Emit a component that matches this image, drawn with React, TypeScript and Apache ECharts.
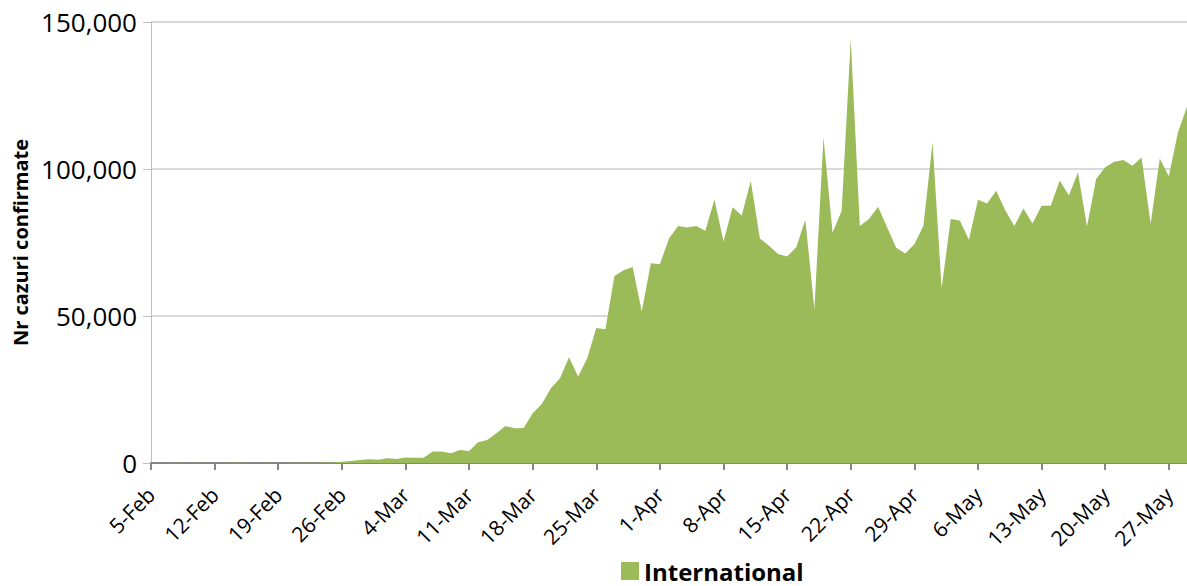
import React, { useEffect, useRef } from "react";
import * as echarts from "echarts";

const categories: string[] = [
  "5-Feb","6-Feb","7-Feb","8-Feb","9-Feb","10-Feb","11-Feb","12-Feb","13-Feb","14-Feb",
  "15-Feb","16-Feb","17-Feb","18-Feb","19-Feb","20-Feb","21-Feb","22-Feb","23-Feb","24-Feb",
  "25-Feb","26-Feb","27-Feb","28-Feb","29-Feb","1-Mar","2-Mar","3-Mar","4-Mar","5-Mar",
  "6-Mar","7-Mar","8-Mar","9-Mar","10-Mar","11-Mar","12-Mar","13-Mar","14-Mar","15-Mar",
  "16-Mar","17-Mar","18-Mar","19-Mar","20-Mar","21-Mar","22-Mar","23-Mar","24-Mar","25-Mar",
  "26-Mar","27-Mar","28-Mar","29-Mar","30-Mar","31-Mar","1-Apr","2-Apr","3-Apr","4-Apr",
  "5-Apr","6-Apr","7-Apr","8-Apr","9-Apr","10-Apr","11-Apr","12-Apr","13-Apr","14-Apr",
  "15-Apr","16-Apr","17-Apr","18-Apr","19-Apr","20-Apr","21-Apr","22-Apr","23-Apr","24-Apr",
  "25-Apr","26-Apr","27-Apr","28-Apr","29-Apr","30-Apr","1-May","2-May","3-May","4-May",
  "5-May","6-May","7-May","8-May","9-May","10-May","11-May","12-May","13-May","14-May",
  "15-May","16-May","17-May","18-May","19-May","20-May","21-May","22-May","23-May","24-May",
  "25-May","26-May","27-May","28-May","29-May",
];

const international: number[] = [
  20, 40, 30, 60, 20, 60, 30, 30, 20, 70,
  50, 40, 30, 70, 10, 20, 80, 100, 60, 150,
  200, 400, 700, 1000, 1300, 1100, 1600, 1400, 1900, 1800,
  1800, 3900, 3900, 3300, 4400, 4100, 7100, 7800, 10100, 12600,
  11800, 11900, 16900, 20100, 25400, 28800, 36000, 29400, 35600, 45900,
  45500, 63600, 65600, 66700, 51500, 67900, 67600, 76400, 80600, 80100,
  80600, 79000, 89600, 75300, 87000, 84200, 95900, 76400, 73900, 71100,
  70200, 73400, 82700, 52400, 110800, 78300, 85800, 144100, 80600, 83000,
  87200, 80200, 73200, 71300, 74400, 80700, 109100, 59400, 83000, 82500,
  75900, 89500, 88300, 92600, 86000, 80600, 86600, 81500, 87500, 87500,
  96100, 91000, 98800, 80400, 96600, 100600, 102500, 103100, 101100, 103900,
  81400, 103600, 97500, 112400, 121200,
];

const seriesName = "International";
const yAxisTitle = "Nr cazuri confirmate";

export default function App() {
  const ref = useRef<HTMLDivElement>(null);
  useEffect(() => {
    document.body.style.margin = "0";
    document.body.style.overflow = "hidden";
    if (!ref.current) return;
    const chart = echarts.init(ref.current, null, { renderer: "svg" });
    const font = "'Open Sans', sans-serif";
    chart.setOption({
      animation: false,
      backgroundColor: "#ffffff",
      grid: { left: 151, right: -1, top: 22, bottom: 123, containLabel: false },
      legend: {
        data: [seriesName],
        left: 621,
        top: 558,
        padding: 0,
        icon: "rect",
        itemWidth: 18,
        itemHeight: 18,
        itemGap: 6,
        textStyle: {
          fontFamily: font,
          fontSize: 24,
          lineHeight: 26,
          fontWeight: "bold",
          color: "#000",
        },
      },
      xAxis: {
        type: "category",
        data: categories,
        boundaryGap: false,
        axisLine: { lineStyle: { color: "#868686", width: 2 } },
        axisTick: { interval: 6, length: 7, lineStyle: { color: "#868686", width: 2 } },
        axisLabel: {
          interval: 6,
          rotate: 45,
          margin: 28,
          fontFamily: font,
          fontSize: 21,
          color: "#000",
        },
        splitLine: { show: false },
      },
      yAxis: {
        type: "value",
        min: 0,
        max: 150000,
        interval: 50000,
        name: yAxisTitle,
        nameLocation: "middle",
        nameRotate: 90,
        nameGap: 120,
        nameTextStyle: { fontFamily: font, fontSize: 20, fontWeight: "bold", color: "#000" },
        axisLine: { show: true, lineStyle: { color: "#bfbfbf", width: 1 } },
        axisTick: { show: true, length: 8, lineStyle: { color: "#bfbfbf" } },
        axisLabel: {
          margin: 14,
          fontFamily: font,
          fontSize: 26,
          color: "#000",
          formatter: (v: number) => v.toLocaleString("en-US"),
        },
        splitLine: { lineStyle: { color: "#d9d9d9", width: 2 } },
      },
      series: [
        {
          name: seriesName,
          type: "line",
          data: international,
          symbol: "none",
          lineStyle: { width: 0 },
          areaStyle: { color: "#9bbb59", opacity: 1 },
          itemStyle: { color: "#9bbb59" },
          z: 1,
        },
      ],
    });
    return () => chart.dispose();
  }, []);
  return <div ref={ref} style={{ width: 1187, height: 586 }} />;
}
